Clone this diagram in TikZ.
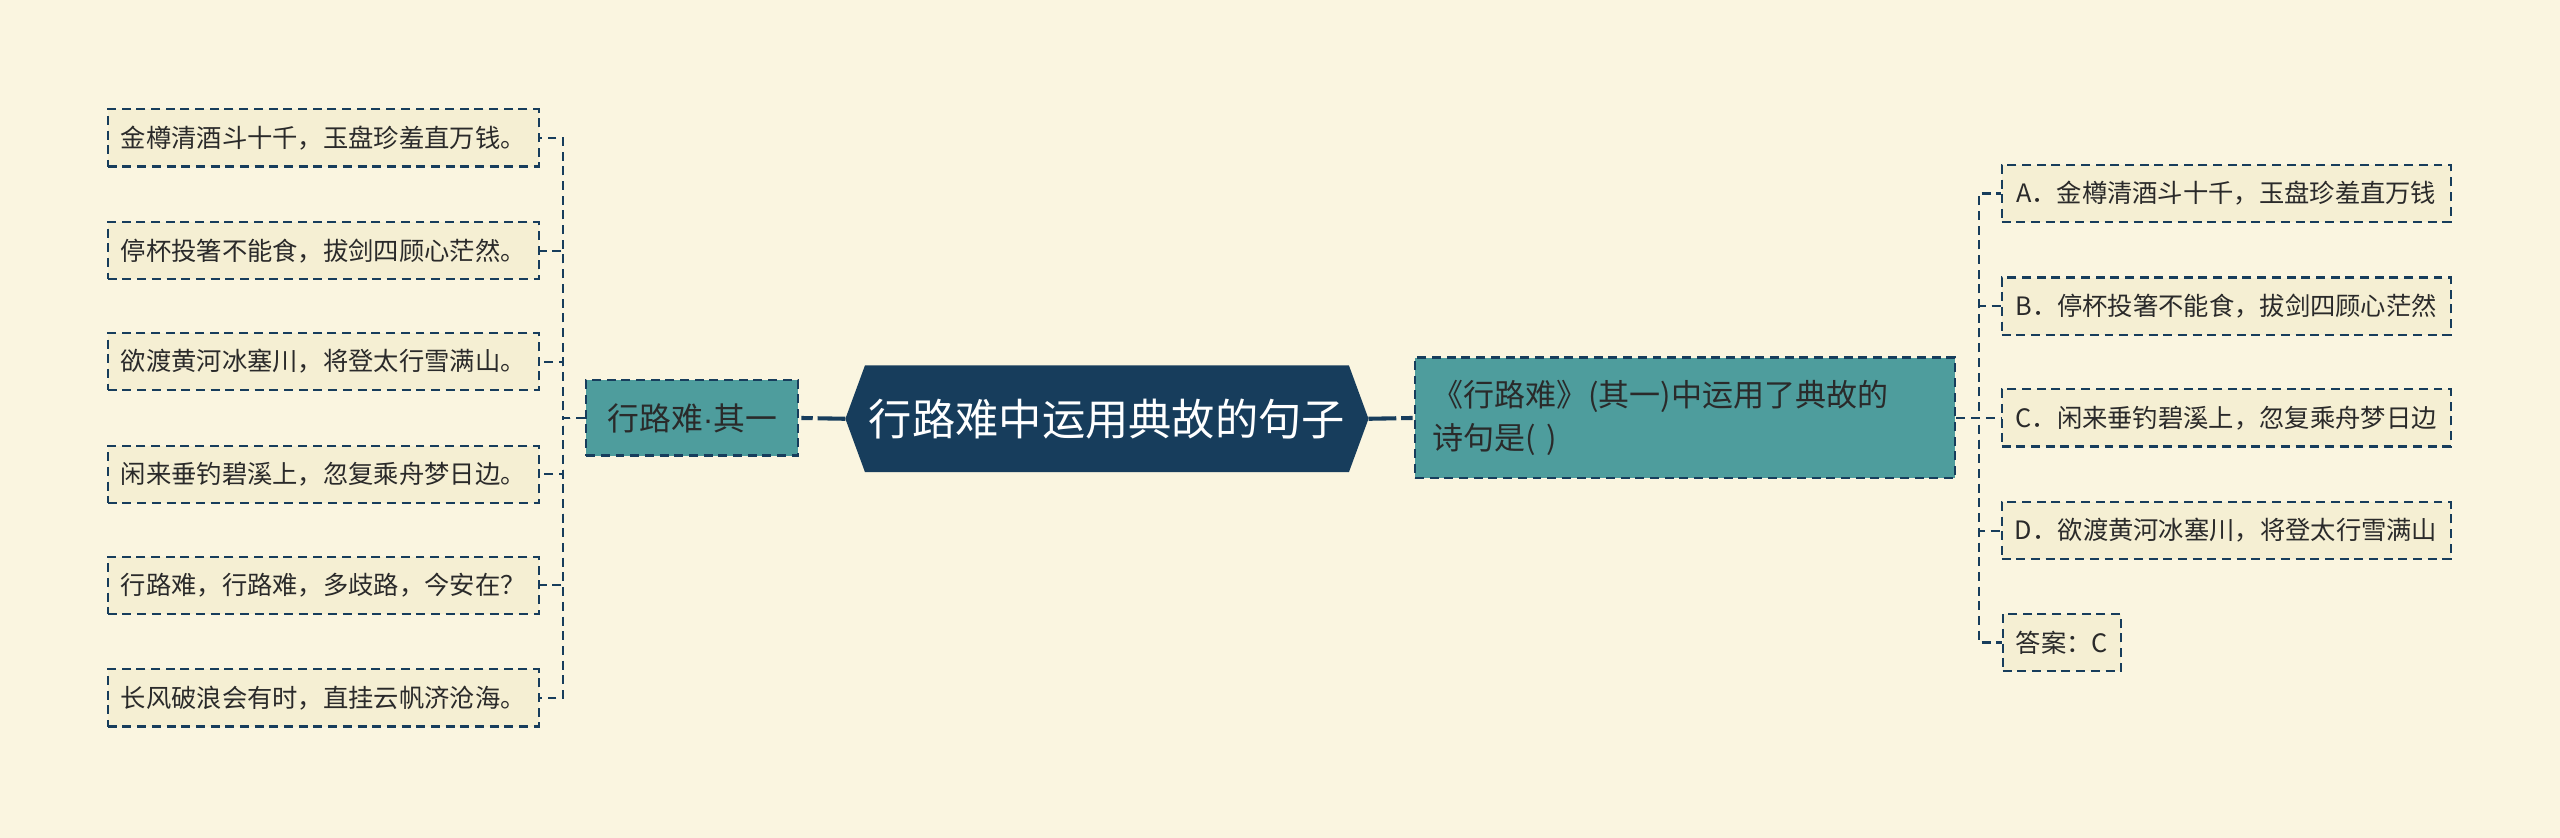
\documentclass[tikz,border=0pt]{standalone}
\usepackage{fontspec}
\setmainfont{Noto Sans CJK SC}
\newfontfamily\latinfont{Liberation Sans}
\usetikzlibrary{backgrounds}
\definecolor{bgcream}{HTML}{FAF5E0}
\definecolor{leaffill}{HTML}{F5EFD3}
\definecolor{tealbox}{HTML}{4E9D9D}
\definecolor{navy}{HTML}{173D5C}
\definecolor{ink}{HTML}{2A2A2A}
\begin{document}
\begin{tikzpicture}[x=1pt,y=-1pt,
  leafbox/.style={draw=navy, dash pattern=on 5.5pt off 3.5pt, line width=1.3pt, fill=leaffill,
    minimum height=35pt, inner sep=0pt, text=ink, font=\fontsize{15.5}{18}\selectfont},
  midbox/.style={draw=navy, dash pattern=on 5.5pt off 3.5pt, line width=1.3pt, fill=tealbox,
    inner sep=0pt, text=ink},
  rootbox/.style={inner sep=0pt, minimum width=320pt, minimum height=65pt, text=white,
    font=\fontsize{26.5}{30}\selectfont},
  conn/.style={draw=navy, line width=1.3pt, dash pattern=on 5.5pt off 3.5pt},
  mainconn/.style={draw=navy, line width=2.5pt, dash pattern=on 17pt off 3pt on 7pt off 3pt}
]
\useasboundingbox (0,0) rectangle (1568,513);

% root
\node[rootbox] (root) at (678,256.5) {行路难中运用典故的句子};

% left branch
\node[midbox, minimum width=130pt, minimum height=46pt, font=\fontsize{19.5}{22}\selectfont] (mid) at (424,256) {行路难{\latinfont\fontsize{19.5}{22}\selectfont ·}其一};
\node[leafbox, minimum width=264pt] (l1) at (198,84.5) {金樽清酒斗十千，玉盘珍羞直万钱。};
\node[leafbox, minimum width=264pt] (l2) at (198,153.5) {停杯投箸不能食，拔剑四顾心茫然。};
\node[leafbox, minimum width=264pt] (l3) at (198,221.5) {欲渡黄河冰塞川，将登太行雪满山。};
\node[leafbox, minimum width=264pt] (l4) at (198,290.5) {闲来垂钓碧溪上，忽复乘舟梦日边。};
\node[leafbox, minimum width=264pt] (l5) at (198,358.5) {行路难，行路难，多歧路，今安在？};
\node[leafbox, minimum width=264pt] (l6) at (198,427.5) {长风破浪会有时，直挂云帆济沧海。};

% right branch
\node[midbox, anchor=west, minimum height=74pt, text width=309pt, inner xsep=11pt, align=left,
  font=\fontsize{19}{26}\selectfont] (q) at (866,256) {《行路难》(其一)中运用了典故的\\诗句是(~)};
\node[leafbox, minimum width=275pt] (ra) at (1363.5,118.5) {A．金樽清酒斗十千，玉盘珍羞直万钱};
\node[leafbox, minimum width=275pt] (rb) at (1363.5,187.5) {B．停杯投箸不能食，拔剑四顾心茫然};
\node[leafbox, minimum width=275pt] (rc) at (1363.5,256) {C．闲来垂钓碧溪上，忽复乘舟梦日边};
\node[leafbox, minimum width=275pt] (rd) at (1363.5,325) {D．欲渡黄河冰塞川，将登太行雪满山};
\node[leafbox, anchor=west, inner xsep=8pt] (rans) at (1226,393.5) {答案：C};

\coordinate (lbus) at (345,256);
\coordinate (rbus) at (1212,256);

% connectors
\draw[mainconn] (root.west) -- (mid.east);
\draw[mainconn] (root.east) -- (q.west);
\foreach \n in {l1,l2,l3,l4,l5,l6}{\draw[conn] (mid.west) -- (lbus) |- (\n.east);}
\foreach \n in {ra,rb,rc,rd,rans}{\draw[conn] (q.east) -- (rbus) |- (\n.west);}

\begin{scope}[on background layer]
\fill[bgcream] (0,0) rectangle (1568,513);
\fill[navy] (root.west) -- ([xshift=12pt]root.north west) -- ([xshift=-12pt]root.north east)
  -- (root.east) -- ([xshift=-12pt]root.south east) -- ([xshift=12pt]root.south west) -- cycle;
\end{scope}
\end{tikzpicture}
\end{document}
